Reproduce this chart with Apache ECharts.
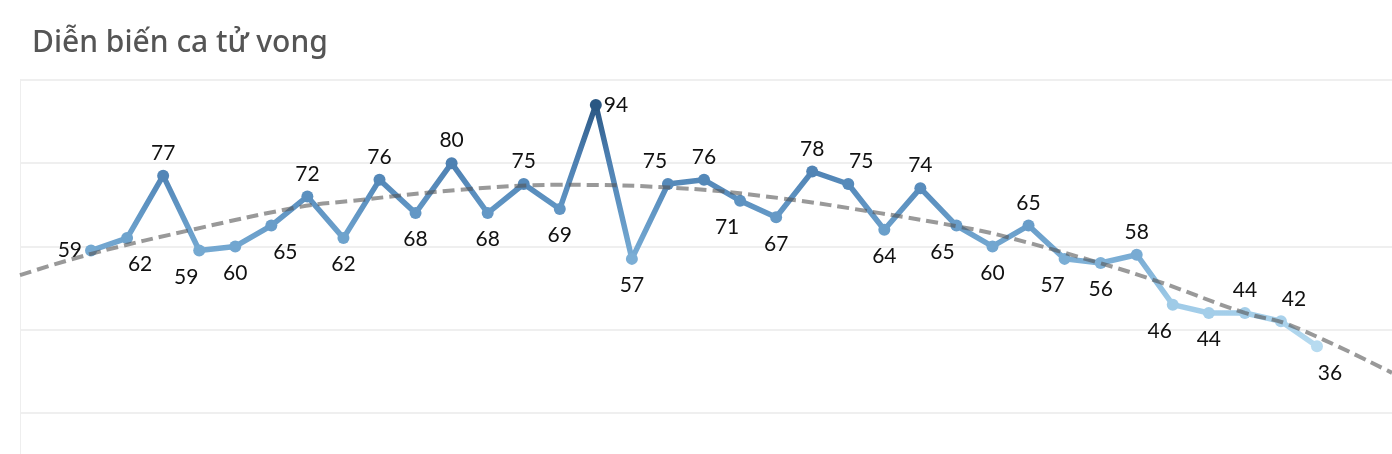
<!DOCTYPE html>
<html>
<head>
<meta charset="utf-8">
<script src="https://cdn.jsdelivr.net/npm/echarts@6/dist/echarts.min.js"></script>
<style>
html,body{margin:0;padding:0;background:#fff;}
#c{width:1392px;height:454px;}
</style>
</head>
<body>
<div id="c"></div>
<script>
// ---- data ----
const deaths = [59, 62, 77, 59, 60, 65, 72, 62, 76, 68, 80, 68, 75, 69, 94, 57, 75, 76, 71, 67, 78, 75, 64, 74, 65, 60, 65, 57, 56, 58, 46, 44, 44, 42, 36];
// trend line (x = point index, y = value)
const trendX = [-1.97, 0, 2.9, 5.8, 7.18, 10.23, 13.0, 16.33, 19.11, 21.88, 24.1, 25.2, 27.98, 29.65, 32.0, 33.25, 36.08];
const trendY = [53.1, 58.2, 64.2, 69.5, 70.9, 73.6, 74.8, 74.0, 71.6, 68.0, 64.7, 62.7, 56.0, 51.4, 44.0, 41.1, 29.6];
const yTicks = [0, 20, 40, 60, 80, 100];

// ---- label placement (style) ----
const labelSide = ['left','bottom','top','bottom','bottom','bottom','top','bottom','top','bottom','top','bottom','top','bottom','right','bottom','top','top','bottom','bottom','top','top','bottom','top','bottom','bottom','top','bottom','bottom','top','bottom','bottom','top','top','bottom'];
const labelNudge = [0,13,0,-13,0,14,0,0,0,0,0,0,0,0,0,0,-13,0,-13,0,0,13,0,0,-14,0,0,-12,0,0,-13,0,0,13,13];
const sideDistance = {top: 6, bottom: 10, left: 3, right: 2};

const chart = echarts.init(document.getElementById('c'), null, {renderer: 'canvas'});
const mainData = deaths.map((v, i) => ({
  value: [i, v],
  label: {
    position: labelSide[i],
    distance: sideDistance[labelSide[i]],
    offset: [labelNudge[i], 0]
  }
}));
const trendData = trendX.map((x, i) => [x, trendY[i]]);

chart.setOption({
  animation: false,
  title: {
    text: 'Diễn biến ca tử vong',
    left: 27, top: 23,
    textStyle: {fontFamily: 'Noto Sans', fontSize: 30, fontWeight: 500, color: '#555555'}
  },
  grid: {left: 20, right: 0, top: 80, bottom: -42, outerBoundsMode: 'none', containLabel: false},
  xAxis: {
    type: 'value', min: -1.97, max: 36.08, show: false
  },
  yAxis: {
    type: 'value', min: yTicks[0], max: yTicks[yTicks.length - 1], interval: 20,
    axisLabel: {show: false}, axisTick: {show: false},
    axisLine: {show: true, onZero: false, lineStyle: {color: '#eeeeee', width: 1}},
    splitLine: {lineStyle: {color: '#efefef', width: 2}}
  },
  visualMap: {
    type: 'continuous', show: false, dimension: 1, seriesIndex: 0,
    min: 36, max: 94,
    inRange: {color: ['#b7dbf0', '#9bc8e6', '#74a8d1', '#5d92c1', '#4a7cae', '#2a5783']}
  },
  series: [
    {
      type: 'line',
      data: mainData,
      z: 2,
      symbol: 'circle', symbolSize: 12,
      lineStyle: {width: 5.5},
      label: {
        show: true,
        formatter: p => p.value[1],
        fontFamily: 'Lato', fontSize: 21, color: '#111111'
      }
    },
    {
      type: 'line',
      data: trendData,
      z: 3,
      smooth: 0.4,
      symbol: 'none',
      silent: true,
      lineStyle: {color: 'rgba(85,85,85,0.6)', width: 4, type: [12, 6]}
    }
  ]
});
</script>
</body>
</html>
